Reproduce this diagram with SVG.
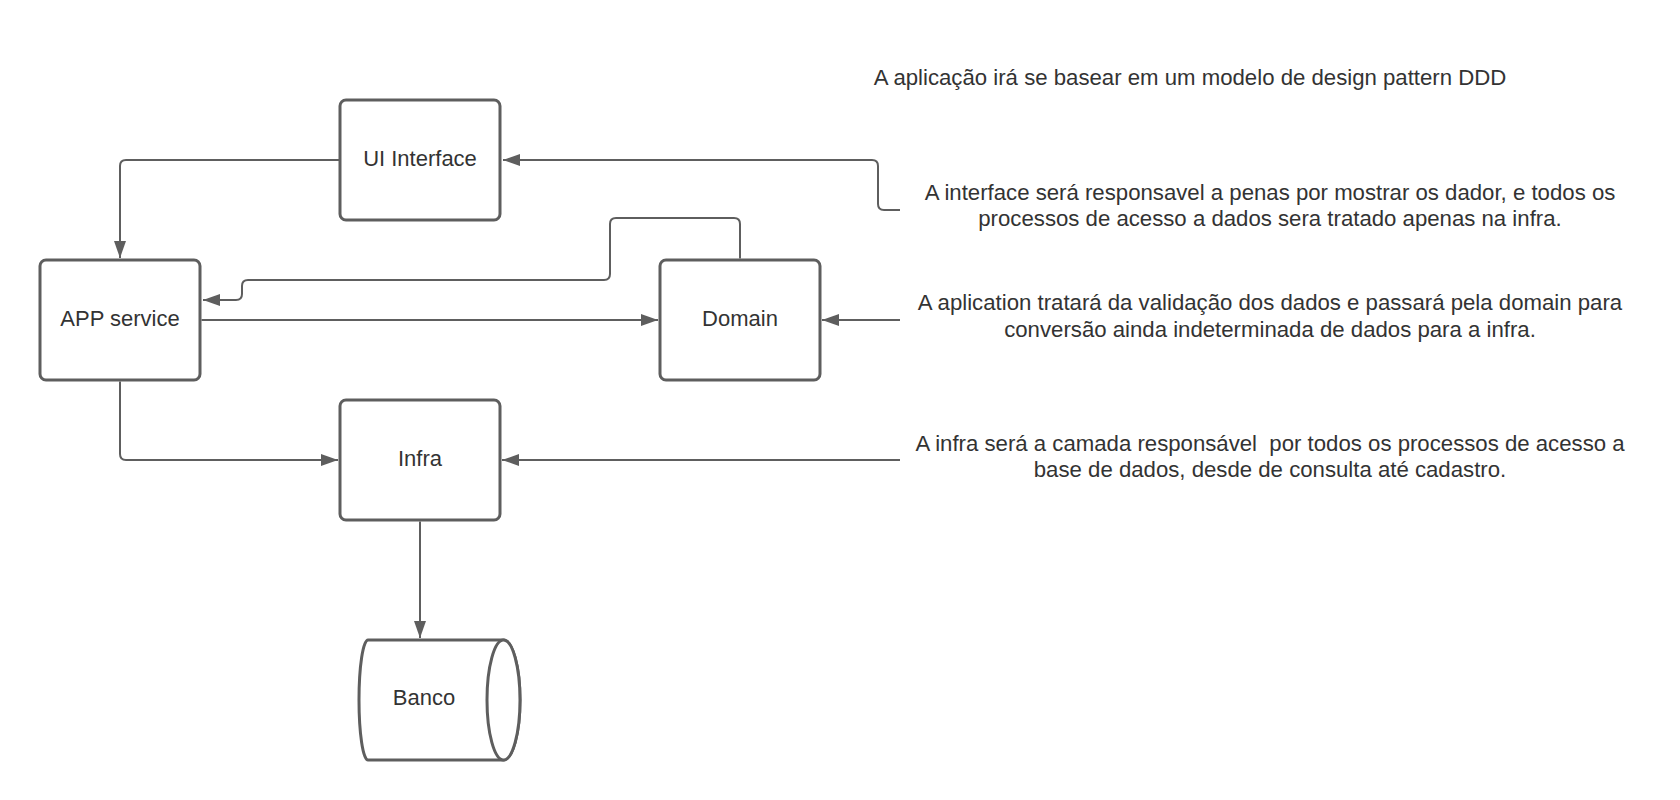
<svg xmlns="http://www.w3.org/2000/svg" width="1680" height="800" viewBox="0 0 1680 800">
<style>
.box{fill:#ffffff;stroke:#5e5e5e;stroke-width:3}
.lbl{font-family:"Liberation Sans",Arial,sans-serif;font-size:22px;fill:#333333;text-anchor:middle}
.note{font-size:22.2px}
.con{fill:none;stroke:#5e5e5e;stroke-width:2}
</style>
<defs>
<marker id="arr" viewBox="0 0 17 12" refX="17" refY="6" markerWidth="17" markerHeight="12" markerUnits="userSpaceOnUse" orient="auto">
<path d="M0,0 L17,6 L0,12 Z" fill="#5e5e5e"/>
</marker>
</defs>
<rect width="1680" height="800" fill="#ffffff"/>
<g id="connectors">
<path class="con" d="M900,210 H884 Q878,210 878,204 V166 Q878,160 872,160 H503" marker-end="url(#arr)"/>
<path class="con" d="M340,160 H126 Q120,160 120,166 V258" marker-end="url(#arr)"/>
<path class="con" d="M740,258.5 V224 Q740,218 734,218 H616 Q610,218 610,224 V274 Q610,280 604,280 H248 Q242,280 242,286 V294 Q242,300 236,300 H203" marker-end="url(#arr)"/>
<path class="con" d="M201.5,320 H658" marker-end="url(#arr)"/>
<path class="con" d="M900,320 H822" marker-end="url(#arr)"/>
<path class="con" d="M120,381.5 V454 Q120,460 126,460 H338" marker-end="url(#arr)"/>
<path class="con" d="M900,460 H502" marker-end="url(#arr)"/>
<path class="con" d="M420,521.5 V638" marker-end="url(#arr)"/>
</g>
<g id="ui-interface">
<rect class="box" x="340" y="100" width="160" height="120" rx="6"/>
<text class="lbl" x="420" y="166">UI Interface</text>
</g>
<g id="app-service">
<rect class="box" x="40" y="260" width="160" height="120" rx="6"/>
<text class="lbl" x="120" y="326">APP service</text>
</g>
<g id="domain">
<rect class="box" x="660" y="260" width="160" height="120" rx="6"/>
<text class="lbl" x="740" y="326">Domain</text>
</g>
<g id="infra">
<rect class="box" x="340" y="400" width="160" height="120" rx="6"/>
<text class="lbl" x="420" y="466">Infra</text>
</g>
<g id="banco">
<path class="box" d="M368,640 H503.5 A16.5,60 0 0 1 503.5,760 H368 A9,60 0 0 1 368,640 Z"/>
<ellipse class="box" cx="503.5" cy="700" rx="16.5" ry="60"/>
<text class="lbl" x="424" y="705">Banco</text>
</g>
<g id="notes">
<text class="lbl note" x="1190" y="85">A aplicação irá se basear em um modelo de design pattern DDD</text>
<text class="lbl note" x="1270" y="200">A interface será responsavel a penas por mostrar os dador, e todos os</text>
<text class="lbl note" x="1270" y="226">processos de acesso a dados sera tratado apenas na infra.</text>
<text class="lbl note" x="1270" y="310">A aplication tratará da validação dos dados e passará pela domain para</text>
<text class="lbl note" x="1270" y="337">conversão ainda indeterminada de dados para a infra.</text>
<text class="lbl note" x="1270" y="451" xml:space="preserve">A infra será a camada responsável  por todos os processos de acesso a</text>
<text class="lbl note" x="1270" y="477">base de dados, desde de consulta até cadastro.</text>
</g>
</svg>
